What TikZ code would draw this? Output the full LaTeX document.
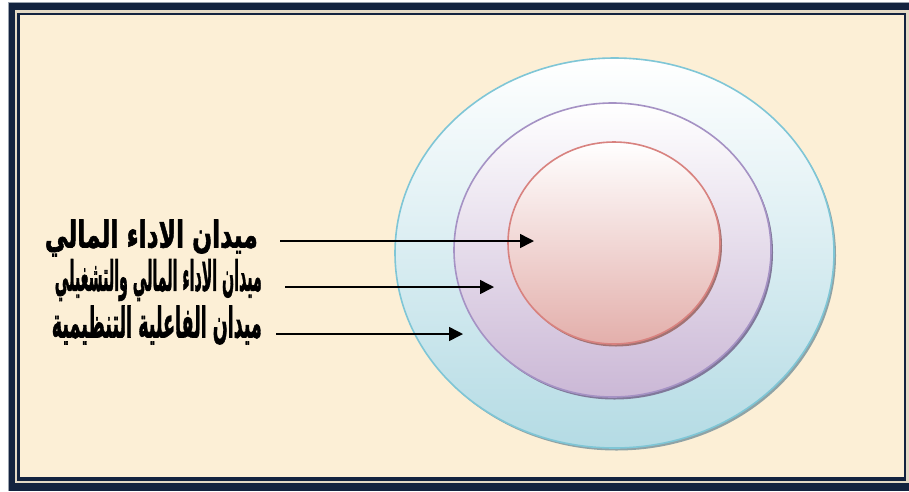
\documentclass[tikz,border=0pt]{standalone}
\usepackage{fontspec}
\usepackage{graphicx}
\TeXXeTstate=1
\newfontfamily\arabicfont[Script=Arabic, FakeBold=1.8]{DejaVu Sans Bold}
\usetikzlibrary{shapes.geometric,arrows.meta}
\definecolor{navy}{HTML}{13233F}
\definecolor{cream}{HTML}{FCEFD6}
\definecolor{edgegray}{HTML}{9AA3AE}
\definecolor{outerline}{HTML}{7FC6D6}
\definecolor{outerfill}{HTML}{B4DBE4}
\definecolor{outershadow}{HTML}{8FA3A6}
\definecolor{midline}{HTML}{A592C4}
\definecolor{midfill}{HTML}{CBB8D6}
\definecolor{midshadow}{HTML}{80789A}
\definecolor{inline}{HTML}{D8827F}
\definecolor{infill}{HTML}{E3AFAB}
\definecolor{inshadow}{HTML}{A27272}
\tikzset{
  ring/.style={ellipse, inner sep=0pt, line width=1.6pt},
  shadowring/.style={ellipse, inner sep=0pt},
  label/.style={anchor=east, inner sep=0pt, text=black},
  pointer/.style={line width=1.5pt, -{Triangle[length=14pt,width=14pt]}},
}
\begin{document}
\begin{tikzpicture}[x=1pt,y=-1pt]
\useasboundingbox (0,0) rectangle (909,491);
% frame
\fill[white] (0,0) rectangle (909,491);
\fill[edgegray] (8,2) rectangle (909,491);
\fill[navy] (9,3) rectangle (909,491);
\fill[cream!80!gray] (15,10) rectangle (909,483);
\fill[navy] (17,12.5) rectangle (906,481);
\fill[cream] (20,15) rectangle (904,477);
% shadows
\node[shadowring, fill=outershadow, minimum width=439pt, minimum height=390pt] (outershd) at (616.5,255.5) {};
\node[ring, draw=outerline, top color=white, bottom color=outerfill, minimum width=439pt, minimum height=390pt] (outer) at (614.5,253) {};
\node[shadowring, fill=midshadow, minimum width=317pt, minimum height=294pt] (midshd) at (614.5,252.5) {};
\node[ring, draw=midline, top color=white, bottom color=midfill, minimum width=317pt, minimum height=294pt] (mid) at (612.5,250) {};
\node[shadowring, fill=inshadow, minimum width=212pt, minimum height=202pt] (inshd) at (616,245.5) {};
\node[ring, draw=inline, top color=white, bottom color=infill, minimum width=212pt, minimum height=202pt] (inner) at (614,243) {};
% labels
\node[label] (t1) at (258,238) {\resizebox*{213pt}{37pt}{\arabicfont\beginR ميدان الاداء المالي\endR}};
\node[label] (t2) at (262,280) {\resizebox*{207pt}{42pt}{\arabicfont\beginR ميدان الاداء المالي والتشغيلي\endR}};
\node[label] (t3) at (262,325) {\resizebox*{210pt}{39pt}{\arabicfont\beginR ميدان الفاعلية التنظيمية\endR}};
% arrows
\coordinate (s1) at (280,241);
\coordinate (e1) at (534,241);
\coordinate (s2) at (285,287);
\coordinate (e2) at (494,287);
\coordinate (s3) at (276,334);
\coordinate (e3) at (463,334);
\draw[pointer] (s1) -- (e1);
\draw[pointer] (s2) -- (e2);
\draw[pointer] (s3) -- (e3);
\end{tikzpicture}
\end{document}
